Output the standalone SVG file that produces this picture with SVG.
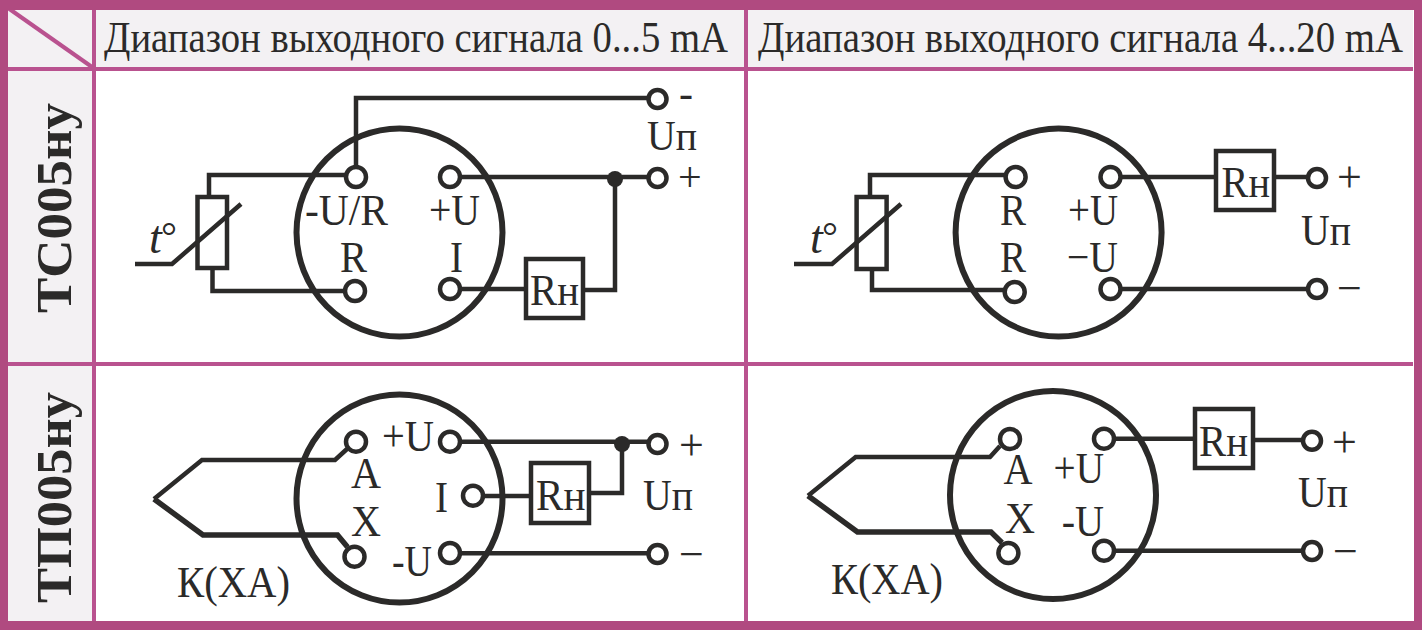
<svg xmlns="http://www.w3.org/2000/svg" width="1422" height="630" viewBox="0 0 1422 630">
<style>
.w{fill:none;stroke:#2b2a29;stroke-width:4.500;stroke-linejoin:miter}
.t{fill:none;stroke:#2b2a29;stroke-width:5.500;stroke-linejoin:miter}
.h{fill:none;stroke:#2b2a29;stroke-width:6}
.b{fill:#fff;stroke:#2b2a29;stroke-width:4.500}
.o{fill:none;stroke:#2b2a29;stroke-width:4.500}
.p{fill:#fff;stroke:#2b2a29;stroke-width:4.500}
.d{fill:#2b2a29}
.f{fill:#f3f1f3}
.l{fill:none;stroke:#b9528f;stroke-width:4}
.bd{fill:#b04a80}
text{font-family:"Liberation Serif","Times New Roman",serif;fill:#2b2a29;font-size:44px}
.hd{font-size:44px}
.v{font-size:50px;font-weight:bold}
.i{font-style:italic;font-size:46px}
.g{font-size:40px}
.s{font-size:42px}
</style>
<g id="table">
<rect width="1422" height="630" fill="#fff"/>
<rect class="f" x="8" y="9" width="1405" height="59"/>
<rect class="f" x="8" y="68" width="85" height="553"/>
<path class="l" d="M94 9V621M746 9V621M8 69H1413M8 364H1413"/>
<path class="l" d="M8 8L92 67"/>
<path class="bd" d="M0 0H1422V630H0ZM8 10V621H1414V10Z" fill-rule="evenodd"/>
</g>
<g id="headers">
<text class="hd" transform="translate(104 52) scale(.9 1)" textLength="693.300" lengthAdjust="spacingAndGlyphs">Диапазон выходного сигнала 0...5 mA</text>
<text class="hd" transform="translate(758 52) scale(.9 1)" textLength="716.700" lengthAdjust="spacingAndGlyphs">Диапазон выходного сигнала 4...20 mA</text>
<text class="v" transform="translate(71 313) rotate(-90)" textLength="210" lengthAdjust="spacingAndGlyphs">ТС005ну</text>
<text class="v" transform="translate(71 603) rotate(-90)" textLength="211" lengthAdjust="spacingAndGlyphs">ТП005ну</text>
</g>
<g id="connectors">
<path class="w" d="M356 168V98H649"/>
<path class="w" d="M209 197V175H346"/>
<path class="w" d="M212.500 268V291H345"/>
<path class="w" d="M460 177H649"/>
<path class="w" d="M615 179V290H583"/>
<path class="w" d="M460 289H526"/>
<path class="w" d="M135 264H172L241 204"/>
<path class="w" d="M870 197V175H1006"/>
<path class="w" d="M872 269V290H1005"/>
<path class="w" d="M1120 177H1216M1274 177H1308"/>
<path class="w" d="M1120 289H1308"/>
<path class="w" d="M794 264H832L901 204"/>
<path class="w" d="M154 499L202 460H335L347 449"/>
<path class="t" d="M154 499L203 535H337.500L347.500 547"/>
<path class="w" d="M460 441.700H649"/>
<path class="w" d="M622 444V493H589"/>
<path class="w" d="M483 496H531"/>
<path class="w" d="M460 553.300H649"/>
<path class="w" d="M808 495.700L855.700 457H990L1000 446"/>
<path class="t" d="M808 495.700L857.500 532H991L1002 542.700"/>
<path class="w" d="M1114 438.700H1195M1253 440H1303"/>
<path class="w" d="M1114 550.700H1303"/>
</g>
<g id="ts-0-5">
<ellipse class="h" cx="399.500" cy="232.500" rx="103" ry="104"/>
<circle class="p" cx="356" cy="177" r="10"/><circle class="p" cx="450" cy="177" r="10"/>
<circle class="p" cx="355" cy="291" r="10"/><circle class="p" cx="450" cy="289" r="10"/>
<circle class="p" cx="657.500" cy="99" r="9"/><circle class="p" cx="657.500" cy="178" r="9"/>
<circle class="d" cx="615" cy="179" r="8"/>
<rect class="o" x="197.500" y="197" width="29.500" height="71"/>
<rect class="b" x="526" y="259" width="57" height="59"/>
<text class="i" x="149" y="253">t</text><text class="g" x="161" y="250">°</text>
<text x="305" y="225" textLength="83" lengthAdjust="spacingAndGlyphs">-U/R</text>
<text x="429" y="225" textLength="51" lengthAdjust="spacingAndGlyphs">+U</text>
<text x="340" y="272" textLength="27" lengthAdjust="spacingAndGlyphs">R</text>
<text x="450" y="272" textLength="13" lengthAdjust="spacingAndGlyphs">I</text>
<text x="530" y="305" textLength="49" lengthAdjust="spacingAndGlyphs">Rн</text>
<text class="s" x="647" y="150" textLength="50" lengthAdjust="spacingAndGlyphs">Uп</text>
<text class="s" x="679" y="107">-</text>
<text class="s" x="678" y="191">+</text>
</g>
<g id="ts-4-20">
<ellipse class="h" cx="1058.600" cy="232.500" rx="103" ry="104"/>
<circle class="p" cx="1015.600" cy="177" r="10"/><circle class="p" cx="1110.500" cy="177" r="10"/>
<circle class="p" cx="1014.700" cy="292" r="10"/><circle class="p" cx="1110.500" cy="289" r="10"/>
<circle class="p" cx="1317" cy="178" r="9"/><circle class="p" cx="1317" cy="289" r="9"/>
<rect class="o" x="856.600" y="197" width="30" height="72"/>
<rect class="b" x="1216" y="151" width="58" height="59"/>
<text class="i" x="810" y="253">t</text><text class="g" x="822" y="250">°</text>
<text x="1000" y="225" textLength="26" lengthAdjust="spacingAndGlyphs">R</text>
<text x="1068" y="225" textLength="50" lengthAdjust="spacingAndGlyphs">+U</text>
<text x="1000" y="272" textLength="26" lengthAdjust="spacingAndGlyphs">R</text>
<text x="1067" y="272" textLength="51" lengthAdjust="spacingAndGlyphs">−U</text>
<text x="1221.600" y="197" textLength="48.400" lengthAdjust="spacingAndGlyphs">Rн</text>
<text x="1301" y="245" textLength="50" lengthAdjust="spacingAndGlyphs">Uп</text>
<text x="1337" y="192">+</text>
<text x="1337" y="303">−</text>
</g>
<g id="tp-0-5">
<ellipse class="h" cx="399.500" cy="498.500" rx="103" ry="104"/>
<circle class="p" cx="356" cy="441.700" r="10"/><circle class="p" cx="450" cy="441.700" r="10"/>
<circle class="p" cx="473" cy="495.700" r="10"/><circle class="p" cx="354.500" cy="556.700" r="10"/>
<circle class="p" cx="450" cy="553" r="10"/>
<circle class="p" cx="657.500" cy="444" r="9"/><circle class="p" cx="657.500" cy="554" r="9"/>
<circle class="d" cx="622" cy="444" r="8"/>
<rect class="b" x="531" y="463" width="58" height="60"/>
<text x="382" y="451" textLength="52" lengthAdjust="spacingAndGlyphs">+U</text>
<text x="351" y="487.700" textLength="30" lengthAdjust="spacingAndGlyphs">A</text>
<text x="351" y="535.700" textLength="30" lengthAdjust="spacingAndGlyphs">X</text>
<text x="435" y="512" textLength="13" lengthAdjust="spacingAndGlyphs">I</text>
<text x="392" y="575.700" textLength="40" lengthAdjust="spacingAndGlyphs">-U</text>
<text x="177" y="596.700" textLength="113" lengthAdjust="spacingAndGlyphs">К(ХА)</text>
<text x="536" y="510" textLength="49.400" lengthAdjust="spacingAndGlyphs">Rн</text>
<text x="643" y="510" textLength="50" lengthAdjust="spacingAndGlyphs">Uп</text>
<text x="679" y="460">+</text>
<text x="679" y="569">−</text>
</g>
<g id="tp-4-20">
<ellipse class="h" cx="1053" cy="495" rx="103" ry="104"/>
<circle class="p" cx="1010" cy="439" r="10"/><circle class="p" cx="1104" cy="438.700" r="10"/>
<circle class="p" cx="1008.400" cy="553" r="10"/><circle class="p" cx="1104" cy="550.700" r="10"/>
<circle class="p" cx="1312" cy="440.700" r="9"/><circle class="p" cx="1312" cy="551" r="9"/>
<rect class="b" x="1195" y="409" width="58" height="59"/>
<text x="1003.500" y="484" textLength="29" lengthAdjust="spacingAndGlyphs">A</text>
<text x="1053.600" y="483" textLength="50.400" lengthAdjust="spacingAndGlyphs">+U</text>
<text x="1005" y="532.700" textLength="30" lengthAdjust="spacingAndGlyphs">X</text>
<text x="1061.700" y="535.700" textLength="42.300" lengthAdjust="spacingAndGlyphs">-U</text>
<text x="831" y="594" textLength="112" lengthAdjust="spacingAndGlyphs">К(ХА)</text>
<text x="1199" y="455.700" textLength="49" lengthAdjust="spacingAndGlyphs">Rн</text>
<text x="1298" y="506.700" textLength="50" lengthAdjust="spacingAndGlyphs">Uп</text>
<text x="1332" y="457">+</text>
<text x="1333" y="566">−</text>
</g>
</svg>
